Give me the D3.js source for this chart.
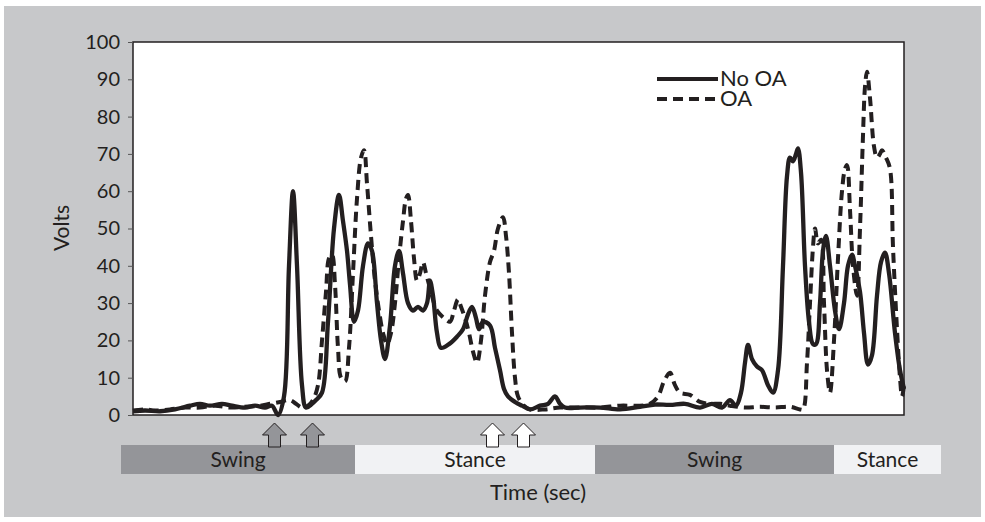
<!DOCTYPE html>
<html>
<head>
<meta charset="utf-8">
<script src="https://cdn.jsdelivr.net/npm/d3@7"></script>
<style>
  body { margin: 0; background: #fff; }
  text { font-family: Lato, "Open Sans", sans-serif; fill: #231f20; }
</style>
</head>
<body>
<svg width="985" height="522"></svg>
<script>
// time in sample units (0..771), volts
var noOA = [
    [0,1],[12,1.2],[27,1],[42,1.5],[57,2.5],[67,3],[77,2.5],[89,3],[99,2.5],[112,2],[122,2.5],[132,2],[139,2.5],[145,0],
    [151,5],[156,40],[160,60],[164,40],[169,8],[173,2],[179,3],[183,4],[189,6],[195,25],[201,50],[206,59],[210,52],
    [214,44],[217,35],[221,25],[225,28],[230,40],[235,46],[239,44],[244,30],[248,20],[252,15],[257,24],[262,40],
    [266,44],[270,38],[275,30],[280,28],[285,29],[290,28],[294,30],[297,36],[300,32],[304,22],[308,18],[316,19],
    [324,21],[330,23],[335,27],[339,29],[343,26],[346,23],[350,25],[357,24],[362,18],[367,12],[371,7],[375,5],
    [382,3.5],[389,2.5],[397,1.5],[407,2.5],[415,3],[422,5],[427,3],[432,2],[447,2],[467,2],[487,1.5],[507,2.2],
    [522,2.8],[537,2.7],[552,3],[567,2],[579,3],[589,2],[597,4],[603,2.5],[608,6],[612,14],[615,18.8],[619,15],
    [624,13],[629,12],[635,8],[640,6],[645,12],[650,40],[654,64],[657,69],[660,68],[663,70],[665,71.5],[668,65],
    [672,40],[676,25],[680,19],[683,19],[687,30],[690,44],[693,48],[697,40],[702,28],[706,23],[711,30],[715,40],
    [719,43],[722,40],[727,33],[731,22],[735,13.5],[739,16],[744,32],[748,41],[752,43.5],[756,38],[762,22],
    [767,12],[771,7]
];
var withOA = [
    [0,1.2],[12,1.5],[22,1.2],[37,1.5],[52,2],[67,2],[82,2.5],[97,2],[112,2.2],[127,2.5],[137,3],[147,3.5],[157,4],
    [163,3],[169,2],[175,2.5],[180,4],[185,8],[189,20],[193,33],[196,42],[199,43],[202,35],[205,18],[208,10],
    [212,9],[216,18],[220,38],[224,58],[228,69],[231,71],[234,62],[238,48],[242,36],[246,28],[250,22],[254,19],
    [258,22],[262,30],[266,42],[270,52],[273,58],[275,59],[278,52],[281,42],[284,36],[287,38],[290,41],[293,38],
    [297,34],[301,30],[304,28],[311,26],[317,25],[321,28],[325,31],[328,29],[332,26],[336,22],[340,17],[344,14],
    [348,20],[352,32],[357,41],[361,44],[365,50],[370,53],[373,48],[376,38],[379,22],[382,10],[385,5],[391,2.5],
    [397,1.5],[412,1.5],[427,2],[447,2],[467,2],[487,2.5],[507,2.5],[517,3],[525,5],[531,9],[537,11.3],[542,8],
    [547,6],[557,5.4],[567,3.5],[577,3],[587,3],[597,2.5],[612,2],[627,2.2],[642,2],[657,2.2],[667,1.5],[670,1.5],
    [674,14],[677,30],[680,45],[682,50],[685,46],[688,47],[691,30],[694,12],[697,6],[701,20],[705,42],[709,60],
    [712,66],[714,67],[717,55],[720,40],[724,32],[727,50],[730,75],[732,88],[734,92],[737,85],[741,72],[744,69],
    [747,70],[749,71],[753,69],[757,66],[760,45],[764,23],[767,10],[769,5],[771,8]
];
var yTicks = [0, 10, 20, 30, 40, 50, 60, 70, 80, 90, 100];
var phases = [
    { name: "Swing", start: -12, end: 222 },
    { name: "Stance", start: 222, end: 462 },
    { name: "Swing", start: 462, end: 701 },
    { name: "Stance", start: 701, end: 808 }
];
var arrows = [
    { t: 141.5, kind: "swing" },
    { t: 179.5, kind: "swing" },
    { t: 359.5, kind: "stance" },
    { t: 390.5, kind: "stance" }
];

var plotL = 133, plotT = 42, plotR = 904, plotB = 415;

var svg = d3.select("svg");

svg.append("rect")
    .attr("x", 4).attr("y", 6)
    .attr("width", 977).attr("height", 511)
    .attr("fill", "#c7c8ca");

var x = d3.scaleLinear().domain([0, 771]).range([plotL, plotR]);
var y = d3.scaleLinear().domain([0, 100]).range([plotB, plotT]);

svg.append("rect")
    .attr("x", plotL).attr("y", plotT)
    .attr("width", plotR - plotL).attr("height", plotB - plotT)
    .attr("fill", "#fff")
    .attr("stroke", "#231f20")
    .attr("stroke-width", 1.5);

var yAxis = svg.append("g")
    .attr("transform", "translate(" + plotL + ",0)")
    .call(d3.axisLeft(y).tickValues(yTicks).tickSize(5).tickPadding(8));
yAxis.select(".domain").remove();
yAxis.selectAll(".tick line").attr("stroke", "#555");
yAxis.selectAll(".tick text")
    .attr("font-size", 20)
    .attr("font-family", "Lato, sans-serif")
    .attr("fill", "#231f20");

var line = d3.line()
    .x(function(d) { return x(d[0]); })
    .y(function(d) { return y(d[1]); })
    .curve(d3.curveCatmullRom.alpha(0.5));

svg.append("path")
    .datum(withOA)
    .attr("d", line)
    .attr("fill", "none")
    .attr("stroke", "#231f20")
    .attr("stroke-width", 4)
    .attr("stroke-dasharray", "10,6");

svg.append("path")
    .datum(noOA)
    .attr("d", line)
    .attr("fill", "none")
    .attr("stroke", "#231f20")
    .attr("stroke-width", 4.3)
    .attr("stroke-linejoin", "round");

// legend
var legend = svg.append("g");
legend.append("line")
    .attr("x1", 657).attr("x2", 718).attr("y1", 79).attr("y2", 79)
    .attr("stroke", "#231f20").attr("stroke-width", 4);
legend.append("text").attr("x", 720).attr("y", 86).attr("font-size", 22).text("No OA");
legend.append("line")
    .attr("x1", 657).attr("x2", 718).attr("y1", 99).attr("y2", 99)
    .attr("stroke", "#231f20").attr("stroke-width", 4)
    .attr("stroke-dasharray", "10,6");
legend.append("text").attr("x", 720).attr("y", 106).attr("font-size", 22).text("OA");

// phase bar
var bar = svg.append("g").selectAll("g")
    .data(phases)
    .enter().append("g");
bar.append("rect")
    .attr("x", function(d) { return x(d.start); })
    .attr("width", function(d) { return x(d.end) - x(d.start); })
    .attr("y", 445).attr("height", 29)
    .attr("fill", function(d) { return d.name == "Swing" ? "#949599" : "#f1f2f4"; });
bar.append("text")
    .attr("x", function(d) { return (x(d.start) + x(d.end)) / 2; })
    .attr("y", 467)
    .attr("text-anchor", "middle")
    .attr("font-size", 21)
    .text(function(d) { return d.name; });

// arrows
function arrowPath(cx) {
    var t = 423, b = 447, hw = 12, sw = 6, hb = 435;
    return "M" + cx + "," + t +
        "L" + (cx + hw) + "," + hb +
        "L" + (cx + sw) + "," + hb +
        "L" + (cx + sw) + "," + b +
        "L" + (cx - sw) + "," + b +
        "L" + (cx - sw) + "," + hb +
        "L" + (cx - hw) + "," + hb + "Z";
}
svg.append("g").selectAll("path")
    .data(arrows)
    .enter().append("path")
    .attr("d", function(d) { return arrowPath(x(d.t)); })
    .attr("fill", function(d) { return d.kind == "swing" ? "#949599" : "#fff"; })
    .attr("stroke", "#231f20")
    .attr("stroke-width", 1);

svg.append("text")
    .attr("x", 538).attr("y", 500)
    .attr("text-anchor", "middle")
    .attr("font-size", 22)
    .text("Time (sec)");

svg.append("text")
    .attr("transform", "translate(69,228) rotate(-90)")
    .attr("text-anchor", "middle")
    .attr("font-size", 21)
    .text("Volts");
</script>
</body>
</html>
